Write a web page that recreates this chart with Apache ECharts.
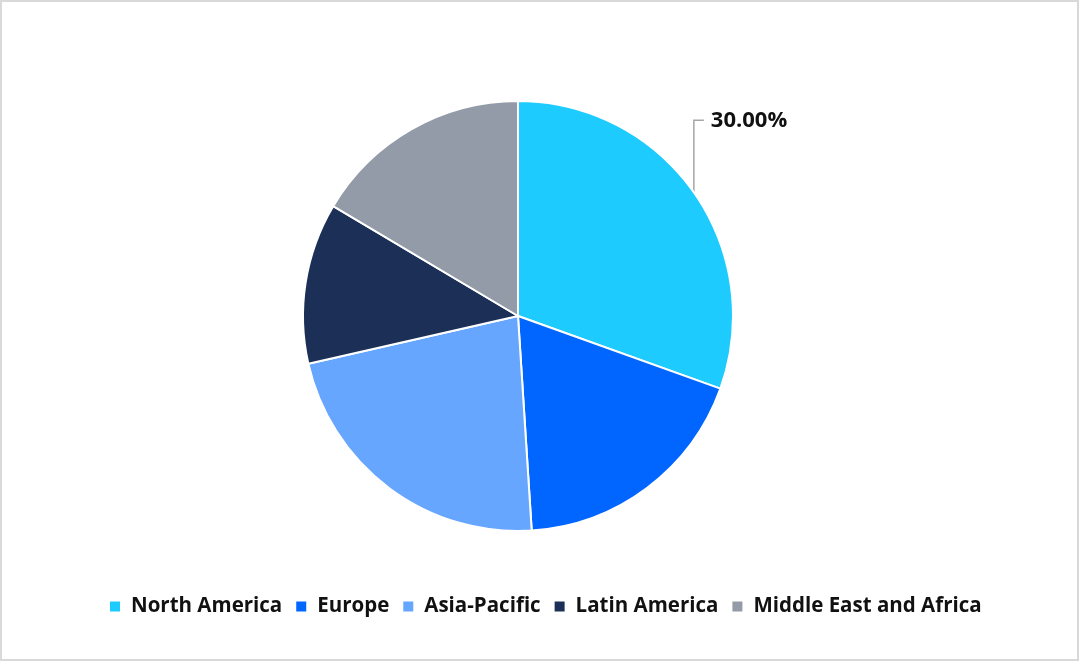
<!DOCTYPE html>
<html>
<head>
<meta charset="utf-8">
<script src="https://cdn.jsdelivr.net/npm/echarts@6/dist/echarts.min.js"></script>
<style>
html,body{margin:0;padding:0;background:#fff;}
#wrap{position:relative;width:1079px;height:661px;}
#chart{position:absolute;left:0;top:0;width:1079px;height:661px;}
#frame{position:absolute;left:0;top:0;width:1079px;height:661px;box-sizing:border-box;border:2px solid #d9d9d9;pointer-events:none;}
</style>
</head>
<body>
<div id="wrap"><div id="chart"></div><div id="frame"></div></div>
<script>
const categories = ['North America', 'Europe', 'Asia-Pacific', 'Latin America', 'Middle East and Africa'];
const values = [30, 18.2, 22.1, 11.9, 16.2];
const colors = ['#1ECBFF', '#0066FF', '#66A6FF', '#1C3057', '#939AA8'];
const labeledIndex = 0;

const chart = echarts.init(document.getElementById('chart'));
const fontFamily = '"Open Sans", "Noto Sans", sans-serif';
chart.setOption({
  animation: false,
  color: colors,
  legend: {
    bottom: 39,
    left: 103,
    icon: 'rect',
    itemWidth: 12,
    itemHeight: 12,
    itemGap: 12,
    data: categories,
    textStyle: {fontFamily: fontFamily, fontWeight: 'bold', fontSize: 20.5, color: '#111', padding: [0, 0, 0, 5]}
  },
  series: [{
    type: 'pie',
    center: [518, 316],
    radius: 215,
    startAngle: 90,
    clockwise: true,
    avoidLabelOverlap: false,
    itemStyle: {borderColor: '#fff', borderWidth: 2},
    label: {show: false},
    labelLine: {show: false},
    emphasis: {disabled: true},
    data: categories.map((c, i) => ({
      name: c,
      value: values[i],
      label: i === labeledIndex ? {
        show: true, position: 'outside',
        formatter: p => p.value.toFixed(2) + '%',
        fontFamily: fontFamily, fontWeight: 'bold', fontSize: 22, color: '#111'
      } : {show: false},
      labelLine: i === labeledIndex ? {show: true, length: 10, length2: 10, lineStyle: {color: '#a6a6a6', width: 1.5}} : {show: false}
    })),
    labelLayout: function (params) {
      if (params.dataIndex !== labeledIndex || !params.labelLinePoints) return {};
      const p0 = params.labelLinePoints[0];
      const topY = p0[1] - 72;
      return {
        x: p0[0] + 17,
        y: topY,
        align: 'left',
        verticalAlign: 'middle',
        labelLinePoints: [[p0[0], p0[1]], [p0[0], topY], [p0[0] + 10, topY]]
      };
    }
  }]
});
</script>
</body>
</html>
